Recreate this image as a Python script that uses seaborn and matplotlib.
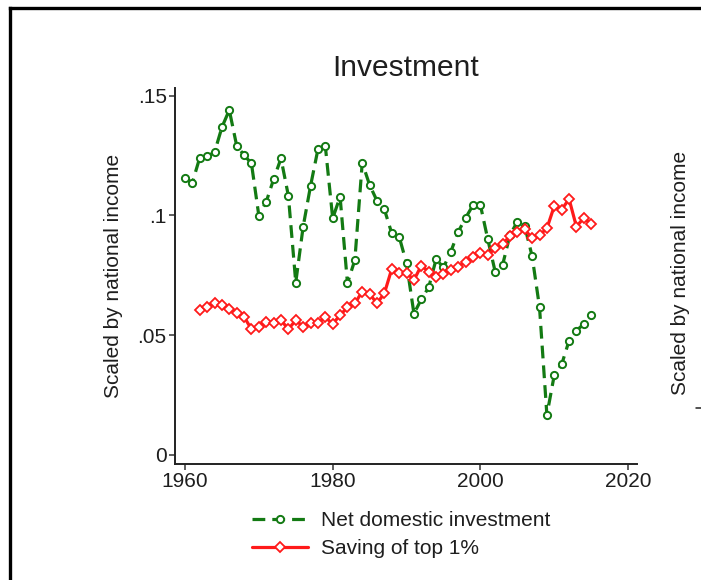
import matplotlib
matplotlib.use("Agg")
import matplotlib.pyplot as plt
from matplotlib.lines import Line2D
import seaborn as sns
import pandas as pd

# Net domestic investment, scaled by national income
years_inv = list(range(1960, 2016))
net_domestic_investment = [
    0.1155, 0.1137, 0.1241, 0.1248, 0.1263, 0.1368, 0.1440, 0.1291, 0.1252, 0.1217,
    0.0999, 0.1057, 0.1151, 0.1238, 0.1082, 0.0720, 0.0953, 0.1123, 0.1276, 0.1290,
    0.0988, 0.1078, 0.0717, 0.0814, 0.1220, 0.1127, 0.1061, 0.1025, 0.0925, 0.0911,
    0.0800, 0.0590, 0.0650, 0.0700, 0.0817, 0.0783, 0.0849, 0.0932, 0.0990, 0.1043,
    0.1043, 0.0900, 0.0765, 0.0793, 0.0918, 0.0974, 0.0955, 0.0830, 0.0617, 0.0167,
    0.0334, 0.0378, 0.0477, 0.0519, 0.0547, 0.0586,
]

# Saving of the top 1%, scaled by national income
years_sav = list(range(1962, 2016))
saving_top1 = [
    0.0605, 0.0619, 0.0636, 0.0626, 0.0608, 0.0591, 0.0577, 0.0525,
    0.0535, 0.0556, 0.0550, 0.0563, 0.0525, 0.0563, 0.0535, 0.0550, 0.0550, 0.0575,
    0.0547, 0.0584, 0.0616, 0.0633, 0.0682, 0.0672, 0.0633, 0.0675, 0.0777, 0.0759,
    0.0761, 0.0730, 0.0791, 0.0765, 0.0744, 0.0755, 0.0772, 0.0786, 0.0807, 0.0825,
    0.0842, 0.0835, 0.0863, 0.0881, 0.0914, 0.0932, 0.0942, 0.0904, 0.0918, 0.0946,
    0.1039, 0.1024, 0.1069, 0.0953, 0.0990, 0.0964,
]

series_labels = ["Net domestic investment", "Saving of top 1%"]
x_ticks = [1960, 1980, 2000, 2020]
y_ticks = [0, 0.05, 0.10, 0.15]
y_tick_labels = ["0", ".05", ".1", ".15"]

GREEN = "#137a13"
RED = "#ff1a1a"
TEXT = "#1e1e1e"

sns.set_style("ticks")
plt.rcParams["font.family"] = ["Liberation Sans", "DejaVu Sans"]

fig = plt.figure(figsize=(7.01, 5.80), dpi=100)
fig.patch.set_facecolor("white")
ax = fig.add_axes([175 / 701, 1 - 464 / 580, 462 / 701, (464 - 88) / 580])

inv = pd.DataFrame({"year": years_inv, "value": net_domestic_investment})
sav = pd.DataFrame({"year": years_sav, "value": saving_top1})

sns.lineplot(data=inv, x="year", y="value", ax=ax, color=GREEN,
             linewidth=2.3, linestyle=(0, (4, 2.2)), marker="o", markersize=5.2,
             markerfacecolor="white", markeredgecolor=GREEN, markeredgewidth=1.4,
             label=series_labels[0], legend=False)
sns.lineplot(data=sav, x="year", y="value", ax=ax, color=RED,
             linewidth=2.3, marker="D", markersize=4.8,
             markerfacecolor="white", markeredgecolor=RED, markeredgewidth=1.3,
             label=series_labels[1], legend=False)

ax.set_xlim(1958.65, 2021.2)
ax.set_ylim(-0.00376, 0.1532)
ax.set_xticks(x_ticks)
ax.set_xticklabels([str(t) for t in x_ticks])
ax.set_yticks(y_ticks)
ax.set_yticklabels(y_tick_labels)
ax.tick_params(axis="both", direction="out", length=4.5, width=1.1,
               labelsize=15, colors="#333333", labelcolor=TEXT, pad=1.5)
for side in ("top", "right"):
    ax.spines[side].set_visible(False)
for side in ("left", "bottom"):
    ax.spines[side].set_linewidth(1.4)
    ax.spines[side].set_color("#222222")

ax.set_xlabel("")
ax.set_ylabel("Scaled by national income", fontsize=15, color=TEXT)
ax.yaxis.set_label_coords(-0.1125, 0.5)
ax.set_title("Investment", fontsize=21.5, color=TEXT, pad=9)

handles, labels = ax.get_legend_handles_labels()
leg = fig.legend(handles, labels, loc="upper left",
                 bbox_to_anchor=(252 / 701, 1 - 511 / 580), frameon=False,
                 fontsize=15, handlelength=2.7, handletextpad=0.6,
                 labelspacing=0.45, borderpad=0, borderaxespad=0)
for t in leg.get_texts():
    t.set_color(TEXT)

# Outer frame of the combined graph and the neighbouring panel's axis title
fig.add_artist(Line2D([10 / 701, 10 / 701], [0, 1 - 8 / 580], transform=fig.transFigure,
                      color="black", linewidth=2.4, solid_capstyle="projecting"))
fig.add_artist(Line2D([10 / 701, 1], [1 - 8 / 580, 1 - 8 / 580], transform=fig.transFigure,
                      color="black", linewidth=2.4, solid_capstyle="projecting"))
fig.text(680 / 701, 1 - 273 / 580, "Scaled by national income", rotation=90,
         ha="center", va="center", fontsize=15, color=TEXT)
fig.add_artist(Line2D([696 / 701, 1], [1 - 408 / 580, 1 - 408 / 580],
                      transform=fig.transFigure, color="#222222", linewidth=1.1))

fig.savefig("out.png", dpi=100, facecolor="white")
